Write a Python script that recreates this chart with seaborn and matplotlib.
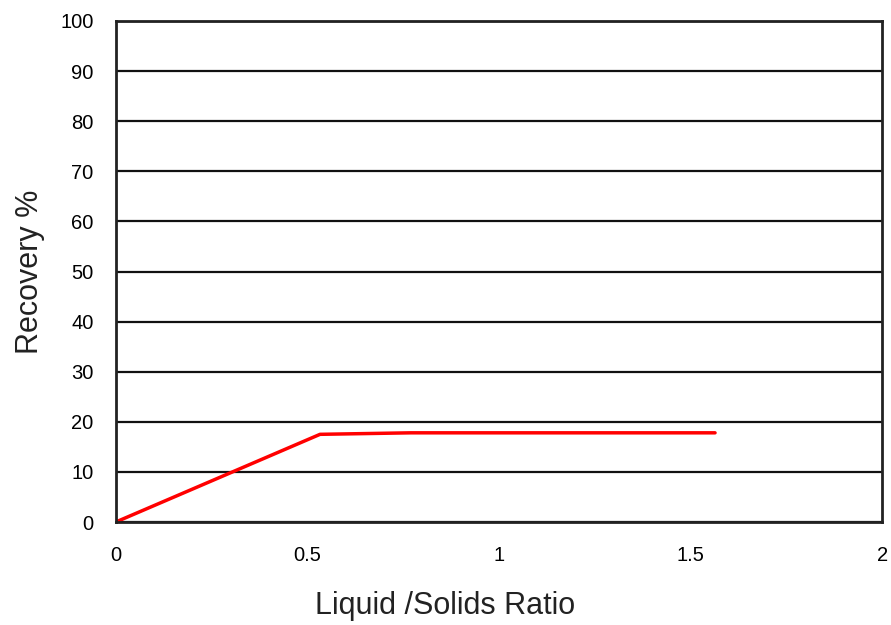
import matplotlib
matplotlib.use("Agg")
import matplotlib.pyplot as plt
import seaborn as sns
import pandas as pd

ratio = [0.0, 0.533, 0.77, 1.564]
recovery = [0.0, 17.5, 17.8, 17.8]
x_ticks = [0, 0.5, 1, 1.5, 2]
x_tick_labels = ["0", "0.5", "1", "1.5", "2"]
y_ticks = [0, 10, 20, 30, 40, 50, 60, 70, 80, 90, 100]

sns.set_theme(style="white")
plt.rcParams['font.family'] = ['Liberation Sans', 'DejaVu Sans']

df = pd.DataFrame({"ratio": ratio, "recovery": recovery})

fig = plt.figure(figsize=(8.91, 6.25), dpi=100)
ax = fig.add_axes([0.130, 0.1648, 0.860, 0.8016])
sns.lineplot(data=df, x="ratio", y="recovery", color="#ff0000", linewidth=2.5,
             ax=ax, sort=False, estimator=None)

ax.set_xlim(0, 2)
ax.set_ylim(0, 100)
ax.set_xticks(x_ticks)
ax.set_xticklabels(x_tick_labels)
ax.set_yticks(y_ticks)
ax.yaxis.grid(True, color="#111111", linewidth=1.6)
ax.xaxis.grid(False)
for s in ax.spines.values():
    s.set_color("#222222")
    s.set_linewidth(2)
ax.tick_params(axis="both", length=0, labelsize=14.5, colors="black")
ax.tick_params(axis="y", pad=16)
ax.tick_params(axis="x", pad=17)
ax.set_xlabel("Liquid /Solids Ratio", fontsize=22, labelpad=19, color="#222222")
ax.set_ylabel("Recovery %", fontsize=22, labelpad=11, color="#222222")
# x label is centred on the whole figure in the reference
ax.xaxis.label.set_x(0.43)

fig.savefig("out.png", dpi=100)
